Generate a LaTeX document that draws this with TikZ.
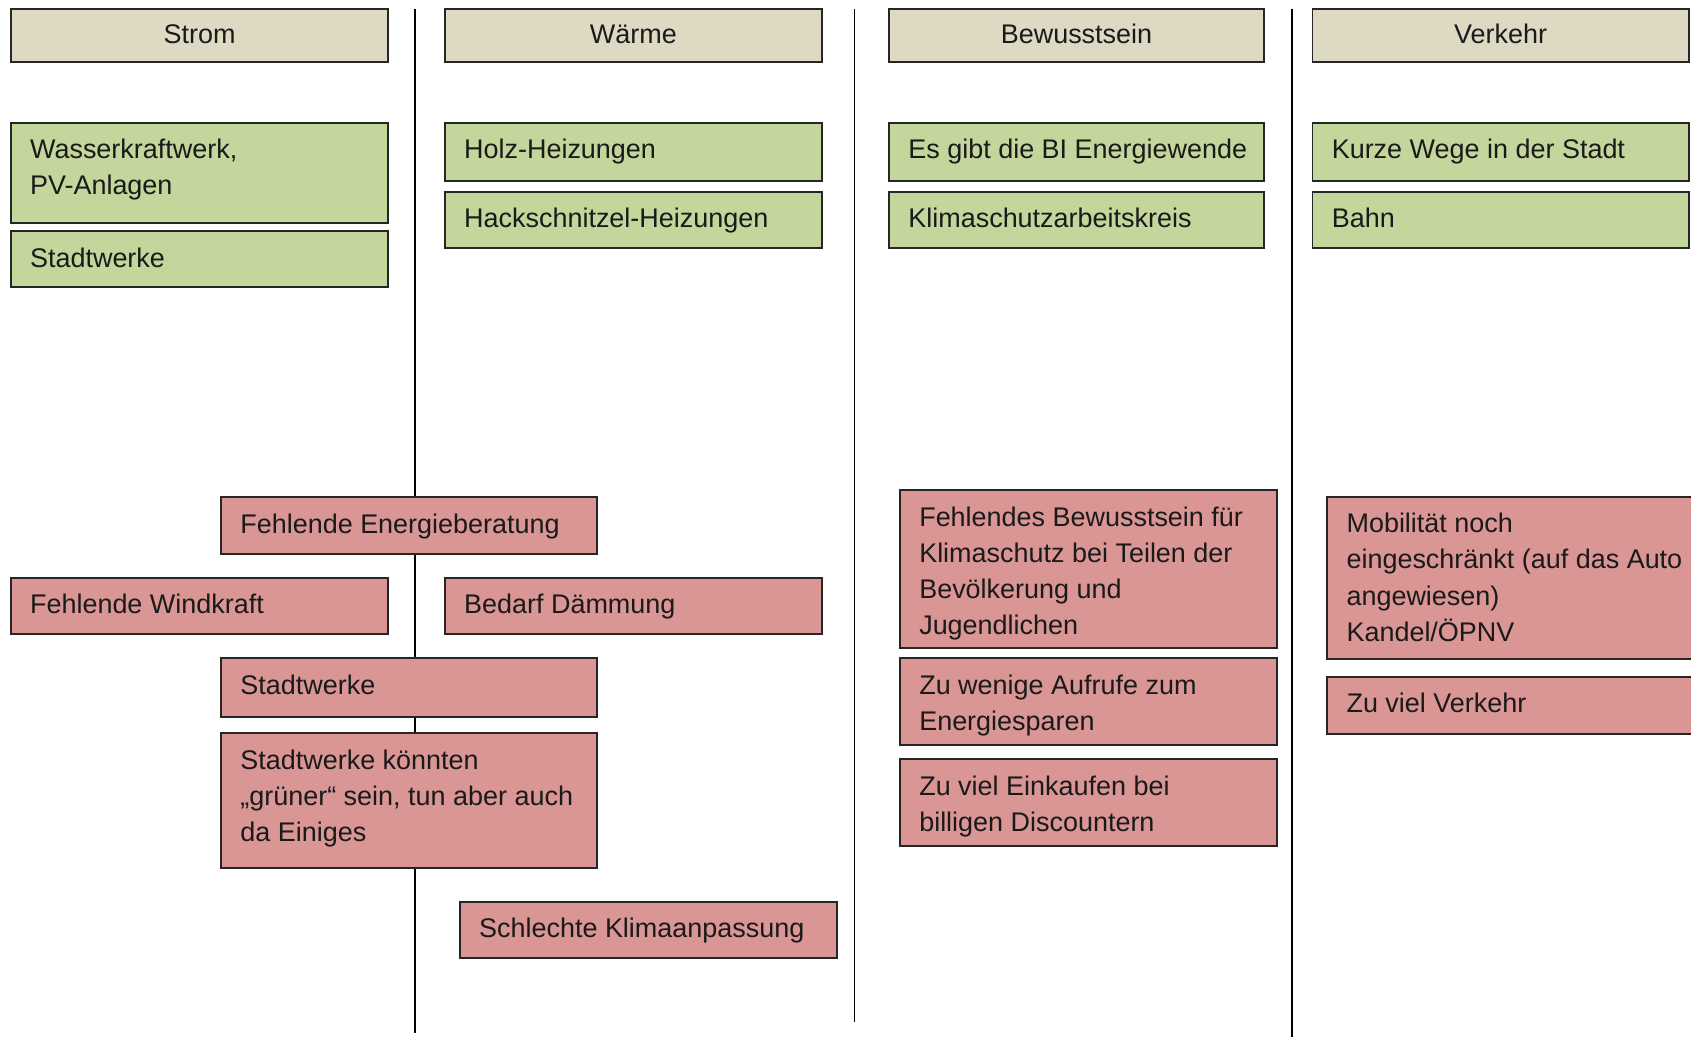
\documentclass[tikz,border=0pt]{standalone}
\usepackage{fontspec}
\setmainfont{Liberation Sans}
\definecolor{hdrfill}{HTML}{DDD9C3}
\definecolor{greenfill}{HTML}{C3D69B}
\definecolor{redfill}{HTML}{D99694}
\definecolor{bordercol}{HTML}{262626}
\definecolor{textcol}{HTML}{1A1A1A}
\tikzset{
  boxbase/.style={draw=bordercol, line width=0.9pt, anchor=north west, inner sep=0pt, outer sep=0pt},
  hdrbox/.style={boxbase, fill=hdrfill},
  posbox/.style={boxbase, fill=greenfill},
  negbox/.style={boxbase, fill=redfill},
  boxtext/.style={inner sep=0pt, text=textcol, font=\fontsize{12.5}{16.75}\selectfont},
  sepline/.style={draw=black, line width=0.8pt},
}
% #1 style, #2 name, #3 x1, #4 y1, #5 x2, #6 y2, #7 text
\newcommand\mkbox[7]{%
  \node[#1, minimum width={(#5-#3)*0.5pt}, minimum height={(#6-#4)*0.5pt}] (#2) at (#3,#4) {};
  \node[boxtext, anchor=base west] (#2-t) at ([xshift=8.75pt, yshift=-16.75pt]#2.north west)
    {\begin{tabular}[t]{@{}l@{}}#7\end{tabular}};
}
\newcommand\mkhdr[6]{%
  \node[hdrbox, minimum width={(#5-#3)*0.5pt}, minimum height={(#6-#4)*0.5pt}] (#2) at (#3,#4) {};
  \node[boxtext, anchor=base] (#2-t) at ([yshift=-16pt]#2.north) {#1};
}
\begin{document}
\begin{tikzpicture}[x=0.5pt, y=-0.5pt]
\useasboundingbox[fill=white] (0,0) rectangle (1568,962);
% separator lines
\coordinate (l1top) at (384.8,8);  \coordinate (l1bot) at (384.8,958);
\coordinate (l2top) at (792.4,8);  \coordinate (l2bot) at (792.4,948);
\coordinate (l3top) at (1198,8);   \coordinate (l3bot) at (1198,962);
\draw[sepline] (l1top) -- (l1bot);
\draw[sepline] (l2top) -- (l2bot);
\draw[sepline] (l3top) -- (l3bot);
% headers
\mkhdr{Strom}{h1}{10}{8}{360}{57.5}
\mkhdr{Wärme}{h2}{412.5}{8}{762}{57.5}
\mkhdr{Bewusstsein}{h3}{824.4}{8}{1172}{57.5}
\mkhdr{Verkehr}{h4}{1217}{8}{1566}{57.5}
% green boxes
\mkbox{posbox}{g1}{10}{113.8}{360}{207}{Wasserkraftwerk,\\PV-Anlagen}
\mkbox{posbox}{g2}{10}{214.2}{360}{266.5}{Stadtwerke}
\mkbox{posbox}{g3}{412.5}{113.8}{762}{167.5}{Holz-Heizungen}
\mkbox{posbox}{g4}{412.5}{177.7}{762}{230.3}{Hackschnitzel-Heizungen}
\mkbox{posbox}{g5}{824.4}{113.8}{1172}{167.5}{Es gibt die BI Energiewende}
\mkbox{posbox}{g6}{824.4}{177.7}{1172}{230.3}{Klimaschutzarbeitskreis}
\mkbox{posbox}{g7}{1217}{113.8}{1566}{167.5}{Kurze Wege in der Stadt}
\mkbox{posbox}{g8}{1217}{177.7}{1566}{230.3}{Bahn}
% red boxes
\mkbox{negbox}{r1}{205}{461}{554}{514}{Fehlende Energieberatung}
\mkbox{negbox}{r2}{10}{535.7}{360}{588.2}{Fehlende Windkraft}
\mkbox{negbox}{r3}{412.5}{535.7}{762}{588.2}{Bedarf Dämmung}
\mkbox{negbox}{r4}{205}{610.5}{554}{664.6}{Stadtwerke}
\mkbox{negbox}{r5}{205}{680}{554}{805.2}{Stadtwerke könnten\\„grüner“ sein, tun aber auch\\da Einiges}
\mkbox{negbox}{r6}{426.4}{836}{776}{888}{Schlechte Klimaanpassung}
\mkbox{negbox}{r7}{834.5}{454.4}{1184.5}{600.6}{Fehlendes Bewusstsein für\\Klimaschutz bei Teilen der\\Bevölkerung und\\Jugendlichen}
\mkbox{negbox}{r8}{834.5}{610.5}{1184.5}{690.8}{Zu wenige Aufrufe zum\\Energiesparen}
\mkbox{negbox}{r9}{834.5}{704.1}{1184.5}{784.2}{Zu viel Einkaufen bei\\billigen Discountern}
\mkbox{negbox}{r10}{1230.7}{460.5}{1580}{611}{Mobilität noch\\eingeschränkt (auf das Auto\\angewiesen)\\Kandel/ÖPNV}
\mkbox{negbox}{r11}{1230.7}{627.5}{1580}{680.7}{Zu viel Verkehr}
\end{tikzpicture}
\end{document}
